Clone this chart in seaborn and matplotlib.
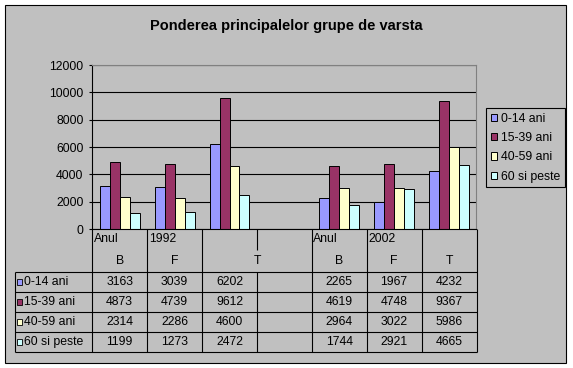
import numpy as np
import pandas as pd
import matplotlib
matplotlib.use("Agg")
import matplotlib.pyplot as plt
from matplotlib.patches import Rectangle
import seaborn as sns

groups = ["0-14 ani", "15-39 ani", "40-59 ani", "60 si peste"]
top_labels = ["Anul", "1992", "", "", "Anul", "2002", ""]
sub_labels = ["B", "F", "T", "", "B", "F", "T"]
vals_0_14 = [3163, 3039, 6202, None, 2265, 1967, 4232]
vals_15_39 = [4873, 4739, 9612, None, 4619, 4748, 9367]
vals_40_59 = [2314, 2286, 4600, None, 2964, 3022, 5986]
vals_60 = [1199, 1273, 2472, None, 1744, 2921, 4665]
colors = ["#9999FF", "#993366", "#FFFFCC", "#CCFFFF"]
y_ticks = [0, 2000, 4000, 6000, 8000, 10000, 12000]
title = "Ponderea principalelor grupe de varsta"

series = [vals_0_14, vals_15_39, vals_40_59, vals_60]
order = [f"c{i}" for i in range(len(sub_labels))]
rows = []
for g, vals in zip(groups, series):
    for key, v in zip(order, vals):
        if v is not None:
            rows.append({"col": key, "grupa": g, "value": v})
df = pd.DataFrame(rows)

# Layout (pixels of a 573x368 picture)
W, H = 573, 368
PX_L, PX_R, PX_T, PX_B = 92.3, 476.5, 65, 229
BG = "#C0C0C0"
FS = 8.8

sns.set_theme(style="ticks")
plt.rcParams["font.family"] = ["Liberation Sans", "DejaVu Sans"]
plt.rcParams["text.color"] = "black"

fig = plt.figure(figsize=(W / 100, H / 100), dpi=100)
fig.patch.set_facecolor("white")

# background + data table layer
tab = fig.add_axes([0, 0, 1, 1], zorder=-1)
tab.set_xlim(0, W)
tab.set_ylim(H, 0)
tab.axis("off")
tab.add_patch(Rectangle((5, 5), 560.7, 357.7, facecolor=BG, edgecolor="black", lw=0.8))

ax = fig.add_axes([PX_L / W, 1 - PX_B / H, (PX_R - PX_L) / W, (PX_B - PX_T) / H])
ax.set_facecolor(BG)
sns.barplot(data=df, x="col", y="value", hue="grupa", order=order, hue_order=groups,
            palette=colors, saturation=1, width=0.727, edgecolor="black", linewidth=0.7,
            ax=ax)
ax.set_xlim(-0.5, len(order) - 0.5)
ax.set_ylim(0, 12000)
ax.set_yticks(y_ticks)
ax.set_yticklabels([str(t) for t in y_ticks])
ax.grid(axis="y", color="black", lw=0.8)
ax.set_axisbelow(True)
ax.tick_params(axis="y", direction="out", length=2.2, width=0.8, pad=4.1, labelsize=FS, colors="black")
ax.tick_params(axis="x", bottom=False, labelbottom=False)
ax.set_xlabel("")
ax.set_ylabel("")
for s in ["left", "bottom"]:
    ax.spines[s].set_color("black")
    ax.spines[s].set_linewidth(0.8)
for s in ["top", "right"]:
    ax.spines[s].set_color("#808080")
    ax.spines[s].set_linewidth(0.8)

handles, labels = ax.get_legend_handles_labels()
leg = ax.legend(handles, labels, loc="upper left", bbox_to_anchor=(486 / W, 1 - 108 / H),
                bbox_transform=fig.transFigure, borderaxespad=0, frameon=True, fancybox=False,
                edgecolor="black", facecolor=BG, framealpha=1, fontsize=FS,
                handlelength=0.55, handleheight=0.55, handletextpad=0.3,
                labelspacing=0.6, borderpad=0.38)
leg.get_frame().set_linewidth(0.8)

fig.text(286 / W, 1 - 26 / H, title, ha="center", va="center", fontsize=10.5, fontweight="bold")

# data table under the plot
ncol = len(sub_labels)
colw = (PX_R - PX_L) / ncol
edges = PX_L + colw * np.arange(ncol + 1)
hdr_mid = 250
hdr_bot = 271.7
row_edges = np.linspace(hdr_bot, 351.7, len(groups) + 1)
lw = 0.8

tab.hlines(row_edges, 15, PX_R, color="black", lw=lw)
tab.vlines(15, hdr_bot, row_edges[-1], color="black", lw=lw)
for k, e in enumerate(edges):
    merged = 0 < k < ncol and sub_labels[k] == "" and sub_labels[k - 1] != ""
    if merged:
        tab.vlines(e, PX_B, hdr_mid, color="black", lw=lw)
        tab.vlines(e, hdr_bot, row_edges[-1], color="black", lw=lw)
    else:
        tab.vlines(e, PX_B, row_edges[-1], color="black", lw=lw)

for k in range(ncol):
    if top_labels[k]:
        tab.text(edges[k] + 1.5, 238.5, top_labels[k], ha="left", va="center", fontsize=FS)
    if sub_labels[k]:
        right = edges[k + 2] if k + 1 < ncol and sub_labels[k + 1] == "" else edges[k + 1]
        tab.text((edges[k] + right) / 2, 261, sub_labels[k], ha="center", va="center", fontsize=FS)

for r, (g, vals, c) in enumerate(zip(groups, series, colors)):
    yc = (row_edges[r] + row_edges[r + 1]) / 2 + 0.5
    tab.add_patch(Rectangle((16.7, yc - 3), 5.5, 5.5, facecolor=c, edgecolor="black", lw=0.6))
    tab.text(23.5, yc, g, ha="left", va="center", fontsize=FS)
    for k, v in enumerate(vals):
        if v is not None:
            tab.text((edges[k] + edges[k + 1]) / 2, yc, str(v), ha="center", va="center", fontsize=FS)

fig.savefig("out.png", dpi=100)
